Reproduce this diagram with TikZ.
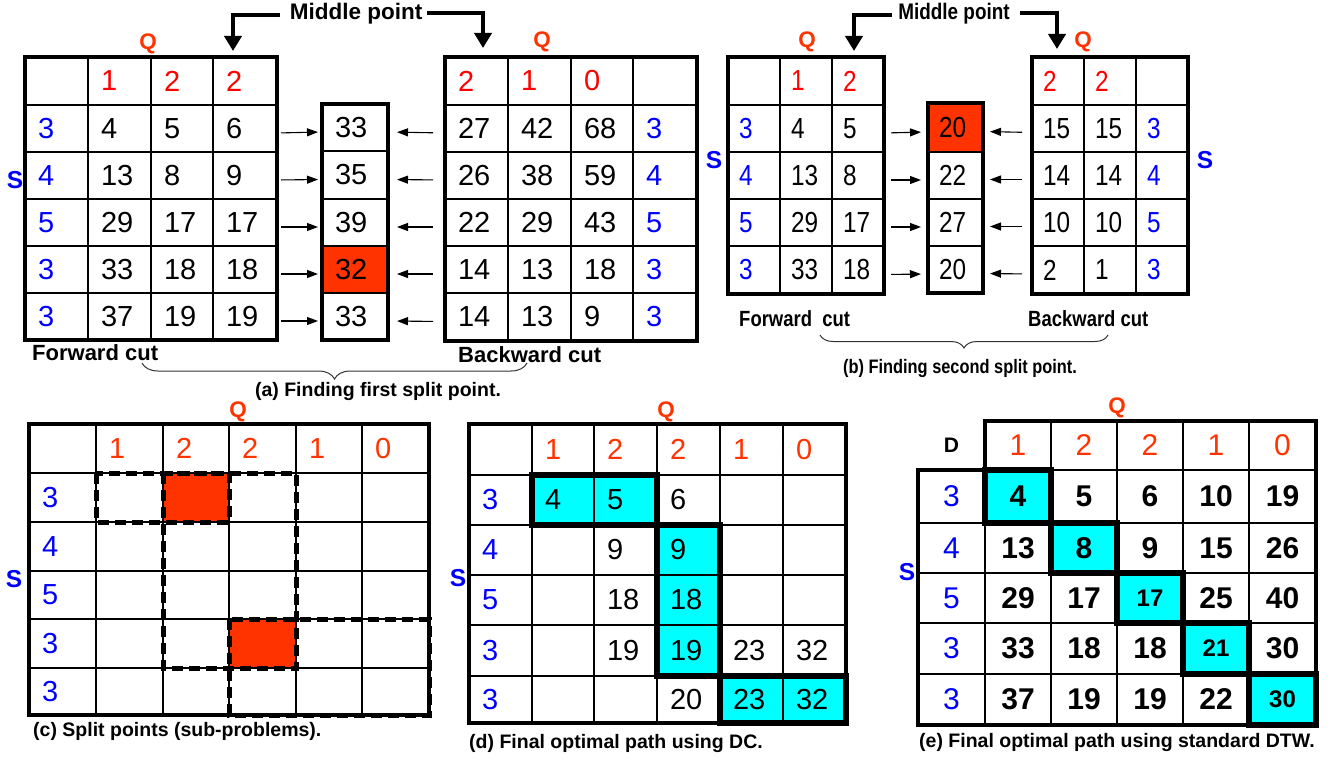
\documentclass[tikz,border=0pt]{standalone}
\usepackage{fontspec}
\setmainfont{Liberation Sans}
\newfontfamily\condA[FakeStretch=0.84]{Liberation Sans}
\newfontfamily\condB[FakeStretch=0.84]{Liberation Sans}
\usetikzlibrary{arrows.meta,decorations.pathreplacing}
\definecolor{qred}{HTML}{FF3300}
\definecolor{hred}{HTML}{FF0000}
\definecolor{sblue}{HTML}{0000FF}
\definecolor{redf}{HTML}{FF3300}
\definecolor{cyanf}{HTML}{00FFFF}
\newcommand\cpad{13}
\newcommand\mkcell[7]{%
  \pgfmathsetmacro\cellw{#4-#2}\pgfmathsetmacro\cellh{#5-#3}%
  \pgfmathsetmacro\celltw{#4-#2-2*\cpad}%
  \pgfmathsetmacro\cellcx{(#2+#4)/2}\pgfmathsetmacro\cellcy{(#3+#5)/2}%
  \node[cellnode,minimum width=\cellw pt,minimum height=\cellh pt,#6] (#1) at (\cellcx,\cellcy) {#7};}
\newcommand\mkC[5]{%
  \pgfmathsetmacro\cxa{\XS[#3]}\pgfmathsetmacro\cxb{\XS[#3+1]}%
  \pgfmathsetmacro\cya{\YS[#2]}\pgfmathsetmacro\cyb{\YS[#2+1]}%
  \mkcell{#1-#2-#3}{\cxa}{\cya}{\cxb}{\cyb}{#4}{#5}}
\newcommand\trow[6]{%
  \foreach \tv [count=\ci from 0] in {#6}{%
    \ifnum\ci=#3\relax \mkC{#1}{#2}{\ci}{#5}{\tv}\else \mkC{#1}{#2}{\ci}{#4}{\tv}\fi}}
\tikzset{
  cellnode/.style={rectangle,inner sep=0pt,outer sep=0pt,anchor=center},
  lft/.style={text width=\celltw pt,inner xsep=\cpad pt,inner ysep=0pt,align=left},
  nA/.style={lft,font=\fontsize{29}{29}\selectfont},
  bA/.style={nA,text=sblue},
  hA/.style={nA,text=hred},
  nB/.style={lft,font=\fontsize{29}{29}\condA},
  bB/.style={nB,text=sblue},
  hB/.style={nB,text=hred},
  hC/.style={nA,text=qred},
  nE/.style={font=\fontsize{30}{30}\selectfont\bfseries},
  bE/.style={font=\fontsize{30}{30}\selectfont,text=sblue},
  hE/.style={font=\fontsize{30}{30}\selectfont,text=qred},
  dE/.style={font=\fontsize{21}{21}\selectfont\bfseries},
  gthin/.style={line width=1.3pt},
  gthick/.style={line width=3.5pt},
  pthick/.style={line width=5.5pt,line join=miter},
  dsh/.style={line width=5pt,dash pattern=on 11pt off 6pt},
  sarr/.style={line width=1.1pt,-{Triangle[length=11pt,width=8pt]}},
  barr/.style={line width=4.5pt,line join=miter,-{Triangle[length=15pt,width=17pt]}},
  brc/.style={decorate,decoration={brace,mirror,amplitude=#1},line width=1pt,draw=black!80},
  qlab/.style={font=\fontsize{22.5}{22.5}\selectfont\bfseries,text=qred,inner sep=0pt},
  slab/.style={font=\fontsize{24.5}{24.5}\selectfont\bfseries,text=sblue,inner sep=0pt},
  lab/.style={font=\fontsize{22}{22}\selectfont\bfseries,inner sep=0pt,anchor=west},
  labB/.style={font=\fontsize{22}{22}\condB\bfseries,inner sep=0pt,anchor=west},
  capt/.style={font=\fontsize{19.5}{19.5}\selectfont\bfseries,inner sep=0pt},
  mptxt/.style={font=\fontsize{22.5}{22.5}\selectfont\bfseries,inner sep=0pt},
}
\begin{document}
\begin{tikzpicture}[x=1pt,y=-1pt]
\useasboundingbox (0,0) rectangle (1332,759);
% ================= (a)
\fill[redf] (322,246) rectangle (388,293);
\foreach \x in {88,151,213} \draw[gthin] (\x,57) -- (\x,340);
\foreach \y in {105,152,199,246,293} \draw[gthin] (25,\y) -- (277,\y);
\draw[gthick] (25,57) rectangle (277,340);
\foreach \y in {151,199,246,293} \draw[gthin] (322,\y) -- (388,\y);
\draw[gthick] (322,104) rectangle (388,340);
\foreach \x in {508,571,633} \draw[gthin] (\x,57) -- (\x,341);
\foreach \y in {105,152,199,246,293} \draw[gthin] (445,\y) -- (697,\y);
\draw[gthick] (445,57) rectangle (697,341);
\renewcommand\cpad{13}
\def\XS{{25,88,151,213,277}}\def\YS{{57,105,152,199,246,293,340}}
\trow{fa}{0}{-1}{hA}{hA}{{},1,2,2}
\trow{fa}{1}{0}{nA}{bA}{3,4,5,6}
\trow{fa}{2}{0}{nA}{bA}{4,13,8,9}
\trow{fa}{3}{0}{nA}{bA}{5,29,17,17}
\trow{fa}{4}{0}{nA}{bA}{3,33,18,18}
\trow{fa}{5}{0}{nA}{bA}{3,37,19,19}
\def\XS{{322,388}}\def\YS{{104,151,199,246,293,340}}
\trow{ma}{0}{-1}{nA}{nA}{33}
\trow{ma}{1}{-1}{nA}{nA}{35}
\trow{ma}{2}{-1}{nA}{nA}{39}
\trow{ma}{3}{-1}{nA}{nA}{32}
\trow{ma}{4}{-1}{nA}{nA}{33}
\def\XS{{445,508,571,633,697}}\def\YS{{57,105,152,199,246,293,341}}
\trow{ba}{0}{-1}{hA}{hA}{2,1,0,{}}
\trow{ba}{1}{3}{nA}{bA}{27,42,68,3}
\trow{ba}{2}{3}{nA}{bA}{26,38,59,4}
\trow{ba}{3}{3}{nA}{bA}{22,29,43,5}
\trow{ba}{4}{3}{nA}{bA}{14,13,18,3}
\trow{ba}{5}{3}{nA}{bA}{14,13,9,3}
\foreach \r [evaluate=\r as \rm using int(\r-1)] in {1,...,5}{
  \draw[sarr,shorten <=4pt,shorten >=4pt] ([yshift=-4.5pt]fa-\r-3.east) -- ([yshift=-4.5pt]ma-\rm-0.west);
  \draw[sarr,shorten <=12pt,shorten >=9pt] ([yshift=-4.5pt]ba-\r-0.west) -- ([yshift=-4.5pt]ma-\rm-0.east);
}
\node[qlab] (qa1) at (148,44) {Q};
\node[qlab] (qa2) at (542,42) {Q};
\node[slab] (sa1) at (15,180) {S};
\node[mptxt] (mpa) at (356,14) {Middle point};
\coordinate (mpa-l) at (233,51);
\coordinate (mpa-r) at (483,48);
\draw[barr,shorten <=10pt] ([yshift=-1pt]mpa.west) -| (mpa-l);
\draw[barr,shorten <=5pt] ([yshift=1pt]mpa.east) -| (mpa-r);
\node[lab] (fca) at (32,353) {Forward cut};
\node[lab] (bca) at (458,355) {Backward cut};
\draw[brc=16pt] (142,363) -- (527,363);
\node[capt] (capa) at (378,391) {(a) Finding first split point.};
% ================= (b)
\fill[redf] (928,103) rectangle (983,152);
\foreach \x in {780,832} \draw[gthin] (\x,57) -- (\x,294);
\foreach \y in {105,152,199,246} \draw[gthin] (728,\y) -- (884,\y);
\draw[gthick] (728,57) rectangle (884,294);
\foreach \y in {152,199,246} \draw[gthin] (928,\y) -- (983,\y);
\draw[gthick] (928,103) rectangle (983,293);
\foreach \x in {1084,1136} \draw[gthin] (\x,57) -- (\x,294);
\foreach \y in {105,152,199,246} \draw[gthin] (1032,\y) -- (1188,\y);
\draw[gthick] (1032,57) rectangle (1188,294);
\renewcommand\cpad{11}
\def\XS{{728,780,832,884}}\def\YS{{57,105,152,199,246,294}}
\trow{fb}{0}{-1}{hB}{hB}{{},1,2}
\trow{fb}{1}{0}{nB}{bB}{3,4,5}
\trow{fb}{2}{0}{nB}{bB}{4,13,8}
\trow{fb}{3}{0}{nB}{bB}{5,29,17}
\trow{fb}{4}{0}{nB}{bB}{3,33,18}
\def\XS{{928,983}}\def\YS{{103,152,199,246,293}}
\trow{mb}{0}{-1}{nB}{nB}{20}
\trow{mb}{1}{-1}{nB}{nB}{22}
\trow{mb}{2}{-1}{nB}{nB}{27}
\trow{mb}{3}{-1}{nB}{nB}{20}
\def\XS{{1032,1084,1136,1188}}\def\YS{{57,105,152,199,246,294}}
\trow{bb}{0}{-1}{hB}{hB}{2,2,{}}
\trow{bb}{1}{2}{nB}{bB}{15,15,3}
\trow{bb}{2}{2}{nB}{bB}{14,14,4}
\trow{bb}{3}{2}{nB}{bB}{10,10,5}
\trow{bb}{4}{2}{nB}{bB}{2,1,3}
\foreach \r [evaluate=\r as \rm using int(\r-1)] in {1,...,4}{
  \draw[sarr,shorten <=7pt,shorten >=7pt] ([yshift=-4.5pt]fb-\r-2.east) -- ([yshift=-4.5pt]mb-\rm-0.west);
  \draw[sarr,shorten <=10pt,shorten >=7pt] ([yshift=-4pt]bb-\r-0.west) -- ([yshift=-4pt]mb-\rm-0.east);
}
\node[qlab] (qb1) at (807,42) {Q};
\node[qlab] (qb2) at (1083,42) {Q};
\node[slab] (sb1) at (714,160) {S};
\node[slab] (sb2) at (1205,160) {S};
\node[mptxt,font=\fontsize{22.5}{22.5}\condB\bfseries] (mpb) at (954,14) {Middle point};
\coordinate (mpb-l) at (854,51);
\coordinate (mpb-r) at (1057,49);
\draw[barr,shorten <=6pt] ([yshift=-1pt]mpb.west) -| (mpb-l);
\draw[barr,shorten <=10pt] ([yshift=1pt]mpb.east) -| (mpb-r);
\node[labB] (fcb) at (739,319) {Forward\ \ cut};
\node[labB] (bcb) at (1028,319) {Backward cut};
\draw[brc=13pt] (820,335) -- (1108,335);
\node[capt,font=\fontsize{19.5}{19.5}\condB\bfseries] (capb) at (960,368) {(b) Finding second split point.};
% ================= (c)
\fill[redf] (163,473) rectangle (229,522);
\fill[redf] (229,619) rectangle (296,668);
\foreach \x in {96,163,229,296,362} \draw[gthin] (\x,424) -- (\x,715);
\foreach \y in {473,522,571,619,668} \draw[gthin] (29,\y) -- (429,\y);
\draw[gthick] (29,424) rectangle (429,715);
\draw[dsh] (96,473) rectangle (229,522);
\draw[dsh] (163,473) rectangle (296,668);
\draw[dsh] (229,619) rectangle (429,715);
\renewcommand\cpad{13}
\def\XS{{29,96,163,229,296,362,429}}\def\YS{{424,473,522,571,619,668,715}}
\trow{tc}{0}{-1}{hC}{hC}{{},1,2,2,1,0}
\trow{tc}{1}{0}{nA}{bA}{3}
\trow{tc}{2}{0}{nA}{bA}{4}
\trow{tc}{3}{0}{nA}{bA}{5}
\trow{tc}{4}{0}{nA}{bA}{3}
\trow{tc}{5}{0}{nA}{bA}{3}
\node[qlab] (qc) at (238,412) {Q};
\node[slab] (sc) at (14,579) {S};
\node[capt,anchor=west] (capc) at (33,731) {(c) Split points (sub-problems).};
% ================= (d)
\fill[cyanf] (532,475) rectangle (657,525);
\fill[cyanf] (657,525) rectangle (720,676);
\fill[cyanf] (720,676) rectangle (846,723);
\foreach \x in {532,594,657,720,783} \draw[gthin] (\x,424) -- (\x,723);
\foreach \y in {475,525,575,625,676} \draw[gthin] (469,\y) -- (846,\y);
\draw[gthick] (469,424) rectangle (846,723);
\draw[pthick] (532,475) rectangle (657,525);
\draw[pthick] (657,525) rectangle (720,676);
\draw[pthick] (720,676) rectangle (846,723);
\def\XS{{469,532,594,657,720,783,846}}\def\YS{{424,475,525,575,625,676,723}}
\trow{td}{0}{-1}{hC}{hC}{{},1,2,2,1,0}
\trow{td}{1}{0}{nA}{bA}{3,4,5,6,{},{}}
\trow{td}{2}{0}{nA}{bA}{4,{},9,9,{},{}}
\trow{td}{3}{0}{nA}{bA}{5,{},18,18,{},{}}
\trow{td}{4}{0}{nA}{bA}{3,{},19,19,23,32}
\trow{td}{5}{0}{nA}{bA}{3,{},{},20,23,32}
\node[qlab] (qd) at (666,412) {Q};
\node[slab] (sd) at (458,578) {S};
\node[capt,anchor=west] (capd) at (469,743) {(d) Final optimal path using DC.};
% ================= (e)
\foreach \a/\b/\c/\d in {985/470/1051/523,1051/523/1117/573,1117/573/1183/623,1183/623/1249/674,1249/674/1316/725}
  \fill[cyanf] (\a,\b) rectangle (\c,\d);
\foreach \x in {1051,1117,1183,1249} \draw[gthin] (\x,421) -- (\x,725);
\draw[gthin] (985,470) -- (985,725);
\foreach \y in {470,523,573,623,674} \draw[gthin] (918,\y) -- (1316,\y);
\draw[gthick,line join=miter] (918,470) -- (985,470) -- (985,421) -- (1316,421) -- (1316,725) -- (918,725) -- cycle;
\foreach \a/\b/\c/\d in {985/470/1051/523,1051/523/1117/573,1117/573/1183/623,1183/623/1249/674,1249/674/1316/725}
  \draw[pthick,line width=6pt] (\a,\b) rectangle (\c,\d);
\def\XS{{918,985,1051,1117,1183,1249,1316}}\def\YS{{421,470,523,573,623,674,725}}
\trow{te}{0}{0}{hE}{dE}{D,1,2,2,1,0}
\trow{te}{1}{0}{nE}{bE}{3,4,5,6,10,19}
\trow{te}{2}{0}{nE}{bE}{4,13,8,9,15,26}
\trow{te}{3}{0}{nE}{bE}{5,29,17,{\fontsize{24}{24}\selectfont 17},25,40}
\trow{te}{4}{0}{nE}{bE}{3,33,18,18,{\fontsize{24}{24}\selectfont 21},30}
\trow{te}{5}{0}{nE}{bE}{3,37,19,19,22,{\fontsize{24}{24}\selectfont 30}}
\node[qlab] (qe) at (1117,408) {Q};
\node[slab] (se) at (907,572) {S};
\node[capt,anchor=west] (cape) at (919,742) {(e) Final optimal path using standard DTW.};
\end{tikzpicture}
\end{document}
